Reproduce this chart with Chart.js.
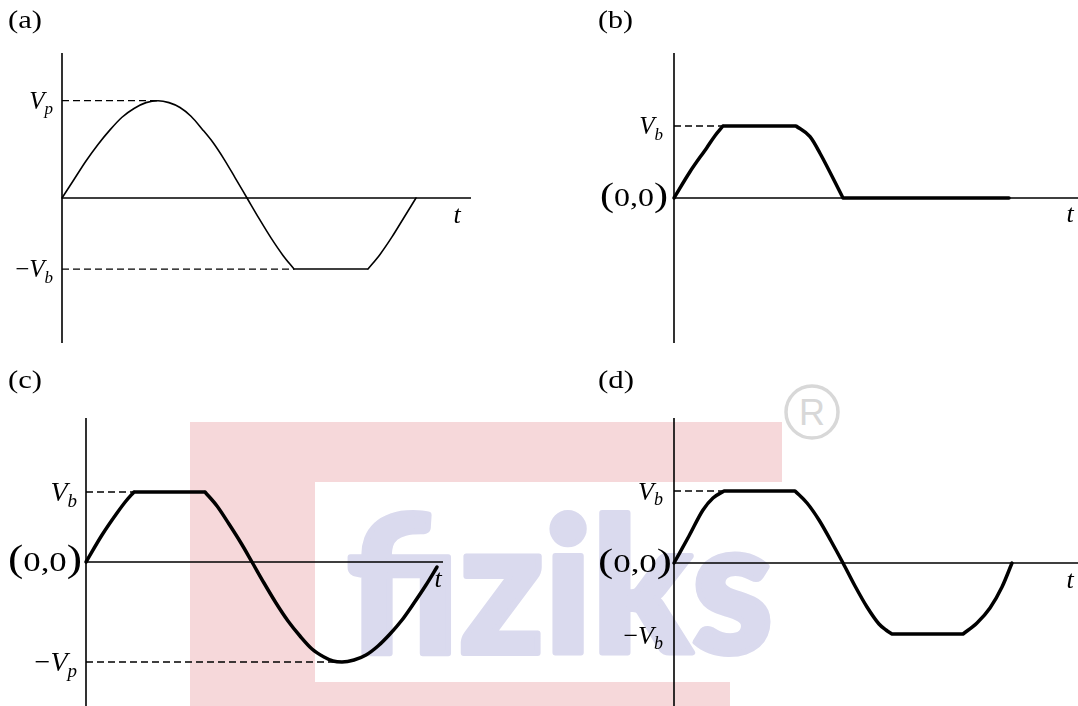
<!DOCTYPE html>
<html>
<head>
<meta charset="utf-8">
<script src="https://cdn.jsdelivr.net/npm/chart.js@4.4.1/dist/chart.umd.min.js"></script>
<style>
  html, body { margin: 0; padding: 0; background: #fff; }
  #page { position: relative; width: 1078px; height: 706px; overflow: hidden; background: #fff; }
  #mark { position: absolute; left: 0; top: 0; }
  .panel { position: absolute; }
</style>
</head>
<body>
<div id="page">
  <svg id="mark" width="1078" height="706">
    <g fill="#f6d8da">
      <rect x="190" y="422" width="592" height="60"/>
      <rect x="190" y="422" width="125" height="284"/>
      <rect x="190" y="682" width="540" height="24"/>
    </g>
    <text x="347" y="653" textLength="426" lengthAdjust="spacingAndGlyphs"
          font-family="Lato" font-weight="900" font-size="186"
          fill="#dadaee" stroke="#dadaee" stroke-width="6" stroke-linejoin="round">fiziks</text>
    <circle cx="812" cy="412" r="26" fill="none" stroke="#d8d8d8" stroke-width="3.5"/>
    <text x="812" y="425" text-anchor="middle" font-family="Liberation Sans" font-size="36" fill="#d8d8d8">R</text>
  </svg>
  <div class="panel" style="left:0;top:0;width:540px;height:353px"><canvas id="pa"></canvas></div>
  <div class="panel" style="left:540px;top:0;width:538px;height:353px"><canvas id="pb"></canvas></div>
  <div class="panel" style="left:0;top:353px;width:540px;height:353px"><canvas id="pc"></canvas></div>
  <div class="panel" style="left:540px;top:353px;width:538px;height:353px"><canvas id="pd"></canvas></div>
</div>
<script>
// ---------- waveform samples (time, voltage) ----------
// (a) sine of peak Vp, negative half clipped at -Vb
const tA = [0, 12, 24, 36, 48, 60, 72, 84, 96, 107, 118, 129, 140, 151, 162, 173, 185, 197, 209, 221, 232,
            306, 318, 330, 342, 354];
const vA = [0, 0.19, 0.38, 0.55, 0.70, 0.83, 0.92, 0.98, 1.0, 0.98, 0.93, 0.84, 0.71, 0.57, 0.40, 0.21, 0, -0.21, -0.41, -0.59, -0.73,
            -0.73, -0.58, -0.40, -0.20, 0];
const kinksA = [20, 21];
const levelsA = { Vp: 1.0, Vb: 0.73 };

// (b) clipped at +Vb, negative half removed
const tB = [0, 16, 33, 41, 49, 122, 136, 146, 169, 335];
const vB = [0, 0.27, 0.52, 0.64, 0.74, 0.74, 0.63, 0.46, 0, 0];
const kinksB = [4, 5, 8];
const levelsB = { Vb: 0.74 };

// (c) clipped at +Vb, full negative swing to -Vp
const tC = [0, 16, 31, 40, 48, 119, 131, 143, 155, 166, 178, 190, 202, 214, 226, 238, 247, 256,
            268, 280, 292, 304, 316, 328, 340, 351];
const vC = [0, 0.27, 0.49, 0.61, 0.70, 0.70, 0.56, 0.38, 0.19, 0, -0.21, -0.41, -0.59, -0.74, -0.87, -0.95, -0.99, -1.0,
            -0.98, -0.93, -0.84, -0.72, -0.58, -0.41, -0.23, -0.05];
const kinksC = [4, 5];
const levelsC = { Vb: 0.70, Vp: 1.0 };

// (d) clipped at both +Vb and -Vb
const tD = [0, 15, 29, 39, 50, 121, 133, 145, 157, 169, 181, 193, 205, 212, 218, 289, 303, 316, 328, 338];
const vD = [0, 0.27, 0.53, 0.65, 0.72, 0.72, 0.60, 0.43, 0.22, 0, -0.23, -0.44, -0.61, -0.67, -0.71, -0.71, -0.60, -0.45, -0.24, 0];
const kinksD = [4, 5, 14, 15];
const levelsD = { Vb: 0.72 };

// ---------- helpers ----------
const SERIF = '"Liberation Serif", "Times New Roman", serif';

// Break the line at each corner so the spline keeps the corner sharp.
function buildCurve(t, v, kinks) {
  const pts = [];
  t.forEach((tt, i) => {
    pts.push({ x: tt, y: v[i] });
    if (kinks.includes(i)) {
      pts.push({ x: tt, y: null });
      pts.push({ x: tt, y: v[i] });
    }
  });
  return pts;
}

// Dashed guide from the vertical axis to the first time the curve reaches a level.
function guide(t, v, level) {
  const i = v.findIndex(val => Math.abs(val - level) < 1e-9);
  return {
    data: [{ x: 0, y: level }, { x: t[i], y: level }],
    borderColor: '#000', borderWidth: 1.3, borderDash: [7, 4],
    tension: 0, pointRadius: 0, clip: false
  };
}

function fontFor(kind, size) {
  if (kind === 'it') return `italic ${size}px ${SERIF}`;
  if (kind === 'sub') return `italic ${Math.round(size * 0.68)}px ${SERIF}`;
  if (kind === 'big') return `${Math.round(size * 1.32)}px ${SERIF}`;
  return `${size}px ${SERIF}`;
}

function drawMath(ctx, parts, x, y, align, size, width) {
  const widths = parts.map(([txt, kind]) => { ctx.font = fontFor(kind, size); return ctx.measureText(txt).width; });
  const natural = widths.reduce((a, b) => a + b, 0);
  const sx = width ? width / natural : 1;
  const total = natural * sx;
  const x0 = align === 'right' ? x - total : align === 'center' ? x - total / 2 : x;
  ctx.save();
  ctx.translate(x0, y);
  ctx.scale(sx, 1);
  let cx = 0;
  parts.forEach(([txt, kind], i) => {
    ctx.font = fontFor(kind, size);
    ctx.fillText(txt, cx, kind === 'sub' ? size * 0.22 : 0);
    cx += widths[i];
  });
  ctx.restore();
}

// Axes and labels
const axesAndLabels = {
  id: 'axesAndLabels',
  beforeDatasetsDraw(chart) {
    const { ctx, scales: { x, y } } = chart;
    const o = chart.options.plugins.axesAndLabels;
    const x0 = x.getPixelForValue(0), y0 = y.getPixelForValue(0);
    ctx.save();
    ctx.strokeStyle = '#000';
    ctx.lineWidth = o.axisWidth;
    ctx.beginPath();
    ctx.moveTo(x0, y.getPixelForValue(y.max));
    ctx.lineTo(x0, y.getPixelForValue(y.min));
    ctx.moveTo(x0, y0);
    ctx.lineTo(x.getPixelForValue(x.max), y0);
    ctx.stroke();
    ctx.restore();
  },
  afterDraw(chart) {
    const { ctx, scales: { x, y } } = chart;
    const o = chart.options.plugins.axesAndLabels;
    ctx.save();
    ctx.fillStyle = '#000';
    ctx.textBaseline = 'alphabetic';
    o.labels.forEach(l => {
      const size = l.size || o.size;
      let py;
      if (l.value !== undefined) py = y.getPixelForValue(l.value) + 0.33 * size;
      else if (l.below !== undefined) py = y.getPixelForValue(0) + l.below;
      else py = l.py;
      const px = l.fromEnd !== undefined ? x.getPixelForValue(x.max) - l.fromEnd : l.px;
      drawMath(ctx, l.parts, px, py, l.align || 'right', size, l.width);
    });
    ctx.restore();
  }
};
Chart.register(axesAndLabels);

function makePanel(id, cfg) {
  const datasets = [{
    data: buildCurve(cfg.t, cfg.v, cfg.kinks),
    borderColor: '#000', borderWidth: cfg.lineWidth,
    cubicInterpolationMode: 'monotone',
    borderCapStyle: 'round', borderJoinStyle: 'round',
    pointRadius: 0, spanGaps: false, clip: false
  }].concat(cfg.guides);
  return new Chart(document.getElementById(id), {
    type: 'line',
    data: { datasets },
    options: {
      responsive: true, maintainAspectRatio: false, animation: false, events: [],
      layout: { padding: cfg.padding },
      plugins: {
        legend: { display: false }, tooltip: { enabled: false },
        axesAndLabels: { axisWidth: 1.6, size: cfg.size, labels: cfg.labels }
      },
      scales: {
        x: { type: 'linear', min: 0, max: cfg.xMax, display: false },
        y: { type: 'linear', min: cfg.yMin, max: cfg.yMax, display: false }
      }
    }
  });
}

const V = ['V', 'it'], MINUS = ['\u2212', 'rm'];
const ORIGIN = [['(', 'big'], ['0,0', 'rm'], [')', 'big']];

function drawAll() {
  makePanel('pa', {
    t: tA, v: vA, kinks: kinksA, lineWidth: 1.6,
    guides: [guide(tA, vA, levelsA.Vp), guide(tA, vA, -levelsA.Vb)],
    padding: { left: 62, right: 69, top: 53, bottom: 10 },
    xMax: 409, yMin: -1.49, yMax: 1.49, size: 25,
    labels: [
      { parts: [['(a)', 'rm']], px: 8, py: 28, align: 'left', width: 34, size: 26 },
      { parts: [V, ['p', 'sub']], value: levelsA.Vp, px: 53 },
      { parts: [MINUS, V, ['b', 'sub']], value: -levelsA.Vb, px: 53 },
      { parts: [['t', 'it']], fromEnd: 14, below: 25, align: 'center', size: 26 }
    ]
  });

  makePanel('pb', {
    t: tB, v: vB, kinks: kinksB, lineWidth: 3.5,
    guides: [guide(tB, vB, levelsB.Vb)],
    padding: { left: 134, right: 0, top: 53, bottom: 10 },
    xMax: 404, yMin: -1.49, yMax: 1.49, size: 25,
    labels: [
      { parts: [['(b)', 'rm']], px: 58, py: 28, align: 'left', width: 35, size: 26 },
      { parts: [V, ['b', 'sub']], value: levelsB.Vb, px: 123 },
      { parts: ORIGIN, value: 0, px: 128, width: 68 },
      { parts: [['t', 'it']], fromEnd: 8, below: 24, align: 'center', size: 26 }
    ]
  });

  makePanel('pc', {
    t: tC, v: vC, kinks: kinksC, lineWidth: 3.5,
    guides: [guide(tC, vC, levelsC.Vb), guide(tC, vC, -levelsC.Vp)],
    padding: { left: 86, right: 97, top: 65, bottom: 0 },
    xMax: 357, yMin: -1.44, yMax: 1.44, size: 28,
    labels: [
      { parts: [['(c)', 'rm']], px: 8, py: 35, align: 'left', width: 34, size: 26 },
      { parts: [V, ['b', 'sub']], value: levelsC.Vb, px: 77 },
      { parts: ORIGIN, value: 0, px: 82, width: 74 },
      { parts: [MINUS, V, ['p', 'sub']], value: -levelsC.Vp, px: 77 },
      { parts: [['t', 'it']], fromEnd: 5, below: 25, align: 'center', size: 26 }
    ]
  });

  makePanel('pd', {
    t: tD, v: vD, kinks: kinksD, lineWidth: 3.5,
    guides: [guide(tD, vD, levelsD.Vb), guide(tD, vD, -levelsD.Vb)],
    padding: { left: 134, right: 0, top: 65, bottom: 0 },
    xMax: 404, yMin: -1.43, yMax: 1.45, size: 26,
    labels: [
      { parts: [['(d)', 'rm']], px: 58, py: 35, align: 'left', width: 36, size: 26 },
      { parts: [V, ['b', 'sub']], value: levelsD.Vb, px: 123 },
      { parts: ORIGIN, value: 0, px: 132, width: 74 },
      { parts: [MINUS, V, ['b', 'sub']], value: -levelsD.Vb, px: 123 },
      { parts: [['t', 'it']], fromEnd: 8, below: 25, align: 'center', size: 26 }
    ]
  });
}

Promise.all([
  document.fonts.load('26px "Liberation Serif"'),
  document.fonts.load('italic 26px "Liberation Serif"')
]).then(drawAll, drawAll);
</script>
</body>
</html>
